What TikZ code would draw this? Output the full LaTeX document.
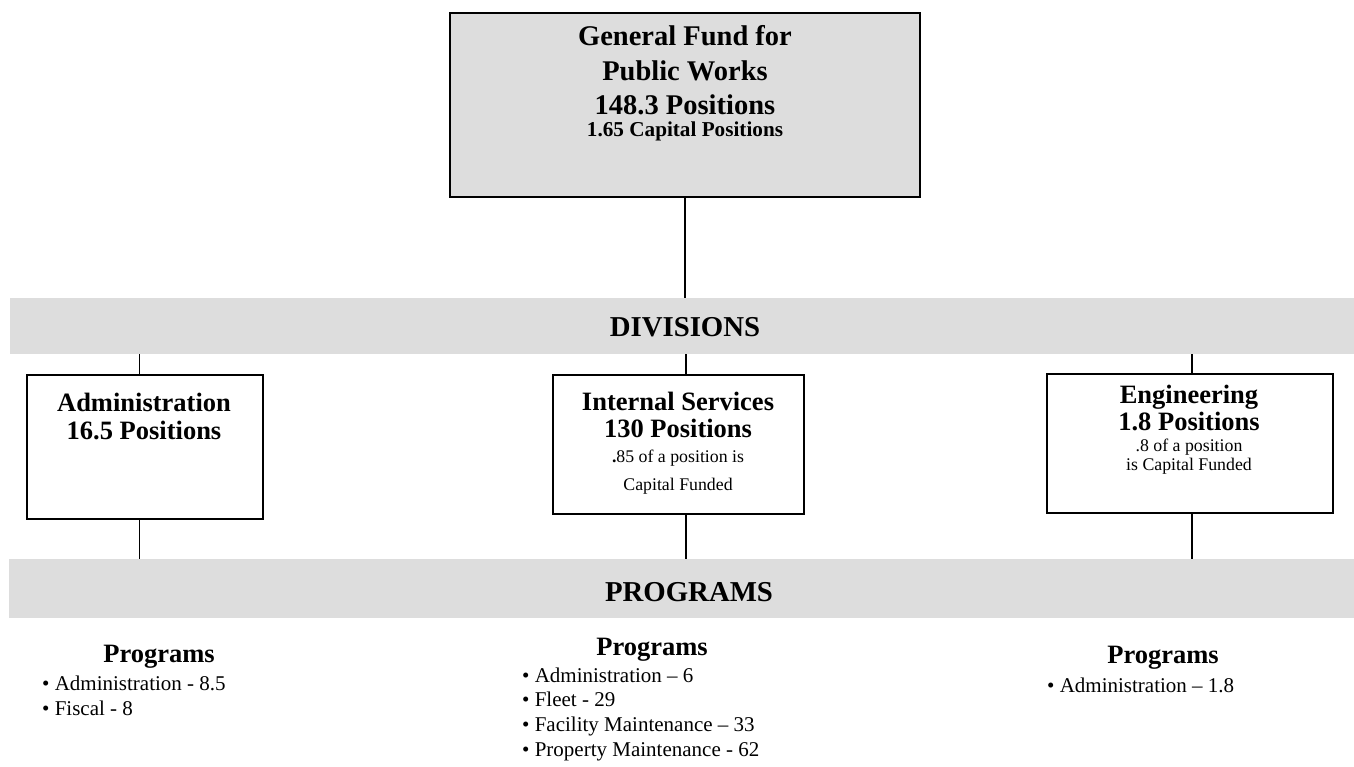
\documentclass[tikz,border=0pt]{standalone}
\usepackage{fontspec}
\setmainfont{Liberation Serif}
\definecolor{bandgray}{HTML}{DDDDDD}
\newcommand{\fbig}{\fontsize{28.5}{34}\selectfont\bfseries}
\newcommand{\fhead}{\fontsize{26.5}{30}\selectfont\bfseries}
\newcommand{\fband}{\fontsize{28.8}{34}\selectfont\bfseries}
\newcommand{\fcap}{\fontsize{21.2}{25}\selectfont\bfseries}
\newcommand{\fsmall}{\fontsize{17.8}{21}\selectfont}
\newcommand{\fitem}{\fontsize{21}{25}\selectfont}
\begin{document}
\begin{tikzpicture}[x=1pt,y=-1pt,
  box/.style={draw=black,line width=1.6pt,inner sep=0pt,anchor=north west},
  band/.style={fill=bandgray,inner sep=0pt,anchor=north west},
  conn/.style={line width=1.5pt},
  txt/.style={anchor=base,inner sep=0pt},
  itm/.style={anchor=base west,inner sep=0pt,font=\fitem}]
\useasboundingbox (0,0) rectangle (1354,767);

% boxes and bands
\node[box,fill=bandgray,minimum width=470pt,minimum height=184pt] (top) at (449,12) {};
\node[band,minimum width=1344pt,minimum height=56pt] (div) at (10,298) {};
\node[band,minimum width=1345pt,minimum height=59pt] (prog) at (9,559) {};
\node[box,minimum width=236pt,minimum height=144pt] (admin) at (26,374) {};
\node[box,minimum width=251pt,minimum height=139pt] (intl) at (552,374) {};
\node[box,minimum width=286pt,minimum height=139pt] (eng) at (1046,373) {};

% top box text
\node[txt,font=\fbig] (t1) at (685,46) {General Fund for};
\node[txt,font=\fbig] (t2) at (685,81) {Public Works};
\node[txt,font=\fbig] (t3) at (685,115) {148.3 Positions};
\node[txt,font=\fcap] (t4) at (685,137) {1.65 Capital Positions};

% bands text
\node[txt,font=\fband] (divt) at (685,336) {DIVISIONS};
\node[txt,font=\fband] (progt) at (689,601) {PROGRAMS};

% administration
\node[txt,font=\fhead] (a1) at (144,411) {Administration};
\node[txt,font=\fhead] (a2) at (144,439) {16.5 Positions};

% internal services
\node[txt,font=\fhead] (i1) at (678,410) {Internal Services};
\node[txt,font=\fhead] (i2) at (678,437) {130 Positions};
\node[txt,font=\fsmall] (i3) at (678,462) {\textbf{.}85 of a position is};
\node[txt,font=\fsmall] (i4) at (678,490) {Capital Funded};

% engineering
\node[txt,font=\fhead] (e1) at (1189,403) {Engineering};
\node[txt,font=\fhead] (e2) at (1189,430) {1.8 Positions};
\node[txt,font=\fsmall] (e3) at (1189,451) {.8 of a position};
\node[txt,font=\fsmall] (e4) at (1189,470) {is Capital Funded};

% connectors
\draw[conn] (top.south) -- (top.south |- div.north);
\draw[conn] ([xshift=-5.5pt]admin.north) -- ([xshift=-5.5pt]admin.north |- div.south);
\draw[conn] ([xshift=7.5pt]intl.north) -- ([xshift=7.5pt]intl.north |- div.south);
\draw[conn] ([xshift=2pt]eng.north) -- ([xshift=2pt]eng.north |- div.south);
\draw[conn] ([xshift=-5.5pt]admin.south) -- ([xshift=-5.5pt]admin.south |- prog.north);
\draw[conn] ([xshift=7.5pt]intl.south) -- ([xshift=7.5pt]intl.south |- prog.north);
\draw[conn] ([xshift=2pt]eng.south) -- ([xshift=2pt]eng.south |- prog.north);

% program lists
\node[txt,font=\fhead] (pl) at (159,662) {Programs};
\node[itm] (pl1) at (42,690) {\textbullet\ Administration - 8.5};
\node[itm] (pl2) at (42,715) {\textbullet\ Fiscal - 8};

\node[txt,font=\fhead] (pm) at (652,655) {Programs};
\node[itm] (pm1) at (522,682) {\textbullet\ Administration -- 6};
\node[itm] (pm2) at (522,706) {\textbullet\ Fleet - 29};
\node[itm] (pm3) at (522,731) {\textbullet\ Facility Maintenance -- 33};
\node[itm] (pm4) at (522,756) {\textbullet\ Property Maintenance - 62};

\node[txt,font=\fhead] (pr) at (1163,663) {Programs};
\node[itm] (pr1) at (1047,692) {\textbullet\ Administration -- 1.8};
\end{tikzpicture}
\end{document}
